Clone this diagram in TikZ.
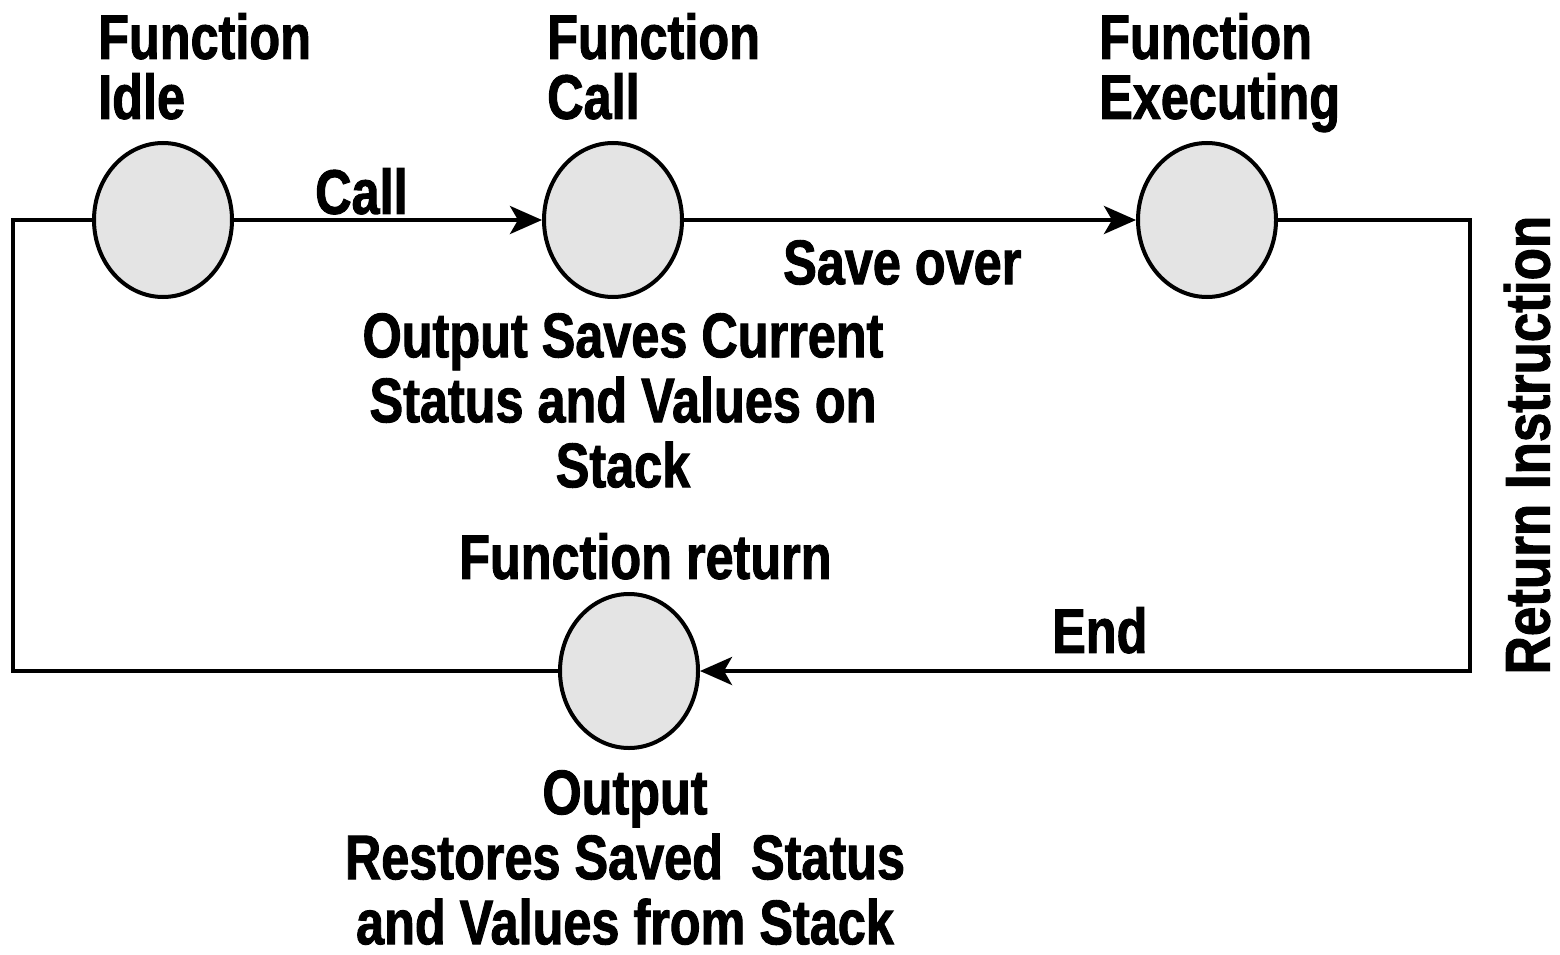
\documentclass[tikz,border=0pt]{standalone}
\usepackage{fontspec}
\setmainfont{Liberation Sans}
\newfontfamily\lblfont[FakeStretch=0.8,FakeBold=1.5]{Liberation Sans}
\usetikzlibrary{shapes.geometric,arrows.meta}
\definecolor{circfill}{HTML}{E4E4E4}
\tikzset{
  state/.style={ellipse, draw=black, line width=4pt, fill=circfill,
    minimum width=138pt, minimum height=154pt, inner sep=0pt},
  conn/.style={line width=4pt},
  arr/.style={conn, -{Stealth[length=32pt,width=28pt,inset=8pt]}},
  lbl/.style={inner sep=0pt, font=\lblfont\bfseries\fontsize{63}{60}\selectfont},
  lblb/.style={inner sep=0pt, font=\lblfont\bfseries\fontsize{63}{65}\selectfont},
  lblc/.style={inner sep=0pt, font=\lblfont\bfseries\fontsize{63}{65}\selectfont}
}
\begin{document}
\begin{tikzpicture}[x=1pt,y=-1pt]
\useasboundingbox (0,0) rectangle (1560,955);
% states
\node[state] (idle) at (163,220) {};
\node[state] (call) at (613,220) {};
\node[state] (exec) at (1207,220) {};
\node[state] (ret)  at (629,671) {};
% corners
\coordinate (tl) at (13,220);
\coordinate (bl) at (13,671);
\coordinate (tr) at (1470,220);
\coordinate (br) at (1470,671);
% connectors
\draw[arr] (idle.east) -- (call.west);
\draw[arr] (call.east) -- (exec.west);
\draw[conn,line join=miter] (exec.east) -- (tr) -- (br) -- ([xshift=30pt]ret.east);
\draw[arr] ([xshift=32pt]ret.east) -- (ret.east);
\draw[conn,line join=miter] (ret.west) -- (bl) -- (tl) -- (idle.west);
% titles
\node[lbl, anchor=north west, align=left] (tidle) at (98,13) {Function\\Idle};
\node[lbl, anchor=north west, align=left] (tcall) at (547,13) {Function\\Call};
\node[lbl, anchor=north west, align=left] (texec) at (1099,13) {Function\\Executing};
% labels
\node[lbl, anchor=north west] (lcall) at (315,168) {Call};
\node[lbl, anchor=north west] (lsave) at (783,240) {Save over};
\node[lblb, anchor=north, align=center] (lout1) at (623,313) {Output Saves Current\\Status and Values on\\Stack};
\node[lbl, anchor=north west] (lfret) at (459,533) {Function return};
\node[lbl, anchor=north west] (lend) at (1052,607) {End};
\node[lblc, anchor=north, align=center] (lout2) at (625,770) {Output\\Restores Saved\ \ Status\\and Values from Stack};
\node[lbl, rotate=90, anchor=center, xscale=1.05] (lretins) at (1527,445) {Return Instruction};
\end{tikzpicture}
\end{document}
